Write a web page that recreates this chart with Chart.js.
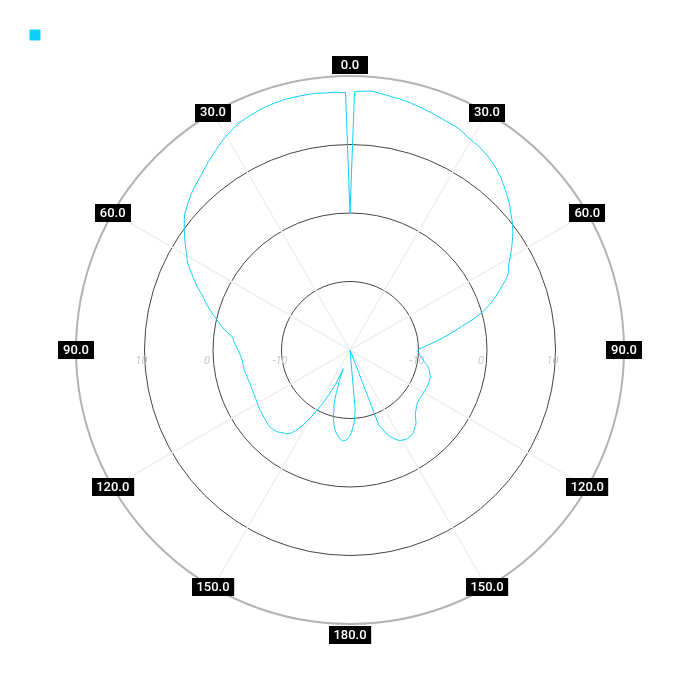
<!DOCTYPE html>
<html>
<head>
<meta charset="utf-8">
<script src="https://cdn.jsdelivr.net/npm/chart.js@4.4.1/dist/chart.umd.min.js"></script>
<style>
  html, body { margin: 0; padding: 0; background: #fff; }
  #wrap { width: 700px; height: 700px; }
</style>
</head>
<body>
<div id="wrap"><canvas id="chart"></canvas></div>
<script>
// one sample per degree, clockwise from the top (dB)
const angles = Array.from({ length: 360 }, (_, i) => i)

const gain = [
  0, 17.7, 17.8, 17.8, 17.9, 17.9, 17.8, 17.7, 17.6, 17.5,
  17.4, 17.4, 17.3, 17.2, 17.1, 17.0, 16.9, 16.8, 16.7, 16.6,
  16.5, 16.4, 16.3, 16.2, 16.1, 16.1, 16.0, 15.9, 15.7, 15.5,
  15.4, 15.3, 15.2, 15.1, 14.9, 14.8, 14.6, 14.4, 14.2, 14.0,
  13.7, 13.5, 13.2, 12.9, 12.6, 12.3, 12.0, 11.7, 11.4, 11.0,
  10.7, 10.4, 10.1, 9.7, 9.4, 9.0, 8.6, 8.2, 7.8, 7.4,
  7.0, 6.6, 6.2, 6.0, 5.75, 5.3, 4.8, 4.2, 3.6, 3.1,
  2.6, 2.0, 1.4, 0.8, 0.1, -0.7, -1.5, -2.4, -3.3, -4.0,
  -4.7, -5.3, -6.0, -6.6, -7.2, -7.8, -8.4, -8.9, -9.4, -9.8,
  -10.1, -10.1, -10.0, -9.9, -9.8, -9.7, -9.5, -9.3, -9.2, -9.0,
  -8.8, -8.6, -8.4, -8.2, -8.1, -8.0, -7.9, -7.8, -7.7, -7.6,
  -7.6, -7.55, -7.55, -7.55, -7.55, -7.55, -7.55, -7.55, -7.55, -7.6,
  -7.6, -7.6, -7.6, -7.6, -7.6, -7.6, -7.6, -7.55, -7.5, -7.4,
  -7.3, -7.2, -7.0, -6.9, -6.7, -6.5, -6.2, -5.9, -5.6, -5.4,
  -5.3, -5.1, -4.9, -4.7, -4.7, -4.6, -4.6, -4.6, -4.6, -4.7,
  -4.8, -4.9, -5.1, -5.4, -5.7, -6.0, -6.5, -7.0, -7.7, -8.3,
  -20, -20, -20, -20, -20, -20, -20, -20, -20, -20,
  -20, -20, -20, -20, -20, -11.2, -10.2, -9.2, -8.6, -8.0,
  -7.5, -7.2, -6.9, -6.8, -6.7, -6.7, -6.9, -7.1, -7.3, -7.6,
  -7.9, -8.3, -8.8, -9.4, -10.0, -10.9, -11.5, -12.5, -13.8, -15.3,
  -17.1, -16.3, -15.5, -14.6, -13.8, -13.0, -12.2, -11.4, -10.6, -9.7,
  -8.8, -7.9, -7.1, -6.4, -5.8, -5.3, -4.9, -4.7, -4.5, -4.45,
  -4.3, -4.1, -4.0, -3.9, -3.85, -3.8, -3.8, -3.8, -3.85, -3.9,
  -3.95, -4.0, -4.05, -4.1, -4.15, -4.2, -4.2, -4.25, -4.3, -4.35,
  -4.4, -4.45, -4.5, -4.5, -4.55, -4.55, -4.6, -4.6, -4.6, -4.6,
  -4.6, -4.6, -4.6, -4.55, -4.5, -4.5, -4.45, -4.4, -4.35, -4.3,
  -4.3, -4.3, -4.25, -4.2, -4.2, -4.15, -4.1, -4.0, -3.9, -3.8,
  -3.65, -3.5, -3.35, -3.2, -3.05, -2.9, -2.8, -2.5, -2.0, -1.5,
  -1.1, -0.7, -0.35, 0.05, 0.45, 0.85, 1.25, 1.7, 2.1, 2.5,
  2.85, 3.35, 3.85, 4.35, 4.85, 5.3, 5.8, 6.3, 6.8, 7.2,
  7.5, 7.9, 8.3, 8.7, 9.1, 9.5, 9.9, 10.3, 10.7, 11.1,
  11.4, 11.6, 11.9, 12.1, 12.4, 12.6, 12.8, 13.0, 13.2, 13.4,
  13.6, 13.9, 14.1, 14.4, 14.6, 14.9, 15.1, 15.4, 15.6, 15.9,
  16.1, 16.3, 16.5, 16.7, 16.9, 17.0, 17.1, 17.2, 17.3, 17.4,
  17.5, 17.6, 17.6, 17.7, 17.7, 17.8, 17.8, 17.8, 17.8, 17.8,
  17.8, 17.8, 17.8, 17.8, 17.7, 17.7, 17.7, 17.7, 17.6, 17.6,
]

// every 30 degrees, labelled symmetrically left/right
const angleTickLabels = ['0.0', '30.0', '60.0', '90.0', '120.0', '150.0', '180.0', '150.0', '120.0', '90.0', '60.0', '30.0']
const radialTickValues = [-10, 0, 10]

const lineColor = '#0fcfff'

// spokes only at 30/60/120/150..., none on the main axes
const isSpoke = i => i % 30 === 0 && i % 90 !== 0

// black boxes for the angle labels, drawn on the outer ring
const angleLabelPlugin = {
  id: 'angleLabels',
  afterDraw(chart) {
    const s = chart.scales.r
    const ctx = chart.ctx
    const outer = s.getDistanceFromCenterForValue(s.max)
    ctx.save()
    ctx.font = '500 13px Roboto'
    ctx.textAlign = 'center'
    ctx.textBaseline = 'middle'
    angleTickLabels.forEach((txt, k) => {
      const extra = (k % 6 === 0) ? 11 : 0
      const p = s.getPointPosition(k * 30, outer + extra)
      const w = Math.max(36, ctx.measureText(txt).width + 9)
      ctx.fillStyle = '#000'
      ctx.fillRect(Math.round(p.x - w / 2), Math.round(p.y - 9), w, 18)
      ctx.fillStyle = '#fff'
      ctx.fillText(txt, p.x, p.y + 0.5)
    })
    ctx.restore()
  }
}

// radial tick values repeated on both sides of the horizontal axis
const radialTickPlugin = {
  id: 'radialTicks',
  beforeDatasetsDraw(chart) {
    const s = chart.scales.r
    const ctx = chart.ctx
    ctx.save()
    ctx.font = 'italic 11px Roboto'
    ctx.fillStyle = '#c8c8c8'
    ctx.textAlign = 'left'
    ctx.textBaseline = 'middle'
    radialTickValues.forEach(v => {
      const r = s.getDistanceFromCenterForValue(v)
      ctx.fillText(String(v), s.xCenter - r - 9, s.yCenter + 11)
      ctx.fillText(String(v), s.xCenter + r - 9, s.yCenter + 11)
    })
    ctx.restore()
  }
}

new Chart(document.getElementById('chart'), {
  type: 'radar',
  data: {
    labels: angles,
    datasets: [{
      label: '',
      data: gain,
      borderColor: lineColor,
      backgroundColor: lineColor,
      borderWidth: 1,
      fill: false,
      pointRadius: 0,
      pointHitRadius: 0,
      tension: 0
    }]
  },
  options: {
    responsive: true,
    maintainAspectRatio: false,
    animation: false,
    layout: { padding: { top: 0, left: 26, right: 26, bottom: 76 } },
    plugins: {
      legend: {
        position: 'top',
        align: 'start',
        labels: { boxWidth: 10, boxHeight: 10, padding: 4, font: { size: 62 } }
      },
      tooltip: { enabled: false }
    },
    scales: {
      r: {
        min: -20,
        max: 20,
        ticks: { stepSize: 10, display: false },
        pointLabels: { display: false },
        angleLines: {
          color: ctx => isSpoke(ctx.index) ? '#f0f0f0' : null,
          lineWidth: ctx => isSpoke(ctx.index) ? 1.5 : 0
        },
        grid: {
          circular: true,
          color: ctx => ctx.tick && ctx.tick.value === 20 ? '#b3b3b3' : '#444444',
          lineWidth: ctx => {
            if (!ctx.tick || ctx.tick.value === -20) return 0
            return ctx.tick.value === 20 ? 2 : 1
          }
        }
      }
    }
  },
  plugins: [radialTickPlugin, angleLabelPlugin]
})
</script>
</body>
</html>
